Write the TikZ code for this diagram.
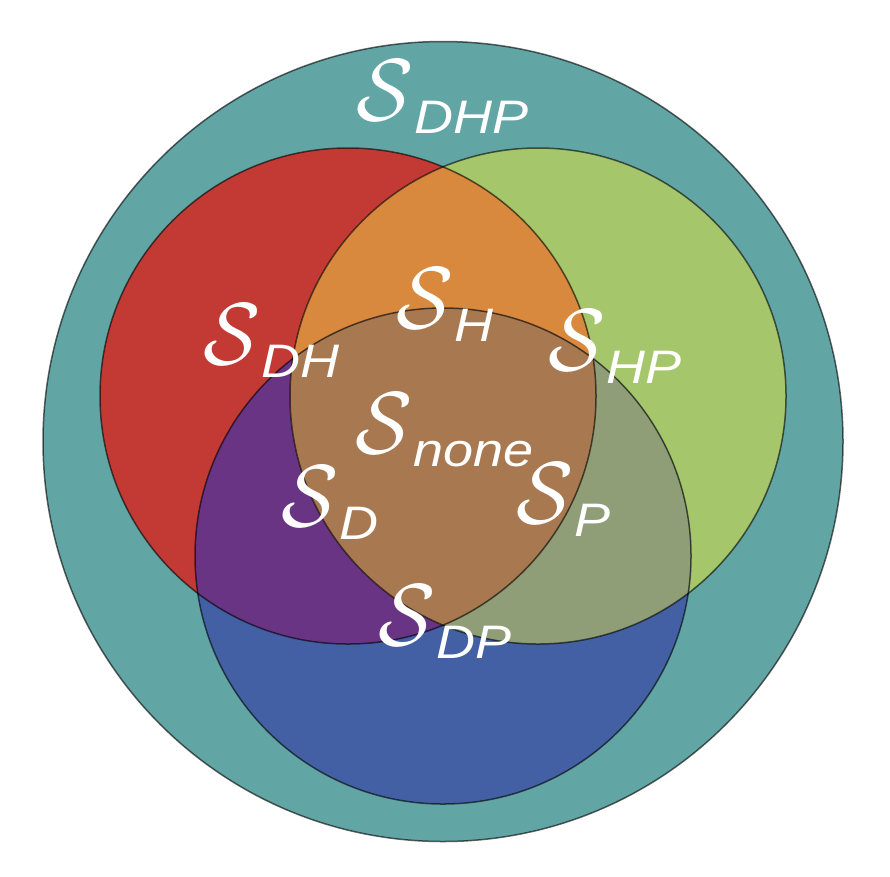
\documentclass[tikz,border=0pt]{standalone}
\usepackage{graphicx}
\usepackage{fontspec}
\setsansfont{Liberation Sans}
\definecolor{cteal}{RGB}{98,165,165}
\definecolor{cred}{RGB}{195,58,53}
\definecolor{cgreen}{RGB}{165,198,107}
\definecolor{corange}{RGB}{216,137,61}
\definecolor{cblue}{RGB}{68,96,164}
\definecolor{cpurple}{RGB}{106,52,132}
\definecolor{colive}{RGB}{143,158,118}
\definecolor{ccenter}{RGB}{168,120,80}
\newcommand{\slab}[1]{\scalebox{8.4}[8.8]{$\mathcal{S}$}\kern1pt\raisebox{-13pt}{\scalebox{1.15}[1]{\fontsize{47}{47}\selectfont\sffamily\itshape #1}}}
\begin{document}
\begin{tikzpicture}[x=1pt,y=-1pt,
  edge/.style={draw=black,draw opacity=0.6,line width=1.5pt},
  lab/.style={anchor=base west,inner sep=0pt,text=white}]
\useasboundingbox (0,0) rectangle (890,876);
\coordinate (O) at (443,441.5);
\coordinate (R) at (348,396);
\coordinate (G) at (538,396);
\coordinate (B) at (443,556);
\fill[cteal] (O) circle (400);
\fill[cred] (R) circle (248);
\fill[cgreen] (G) circle (248);
\fill[cblue] (B) circle (248);
\begin{scope}
\clip (R) circle (248);
\fill[corange] (G) circle (248);
\fill[cpurple] (B) circle (248);
\clip (G) circle (248);
\fill[ccenter] (B) circle (248);
\end{scope}
\begin{scope}
\clip (G) circle (248);
\clip (B) circle (248);
\fill[colive] (B) circle (248);
\clip (R) circle (248);
\fill[ccenter] (B) circle (248);
\end{scope}
\draw[edge] (O) circle (400);
\draw[edge] (R) circle (248);
\draw[edge] (G) circle (248);
\draw[edge] (B) circle (248);
\node[lab] (dhp) at (356,120) {\slab{DHP}};
\node[lab] (h) at (396,328) {\slab{H}};
\node[lab] (dh) at (203,364) {\slab{DH}};
\node[lab] (hp) at (548,370) {\slab{HP}};
\node[lab] (none) at (355,453) {\slab{none}};
\node[lab] (d) at (281,526) {\slab{D}};
\node[lab] (p) at (516,523) {\slab{P}};
\node[lab] (dp) at (378,645) {\slab{DP}};
\end{tikzpicture}
\end{document}
